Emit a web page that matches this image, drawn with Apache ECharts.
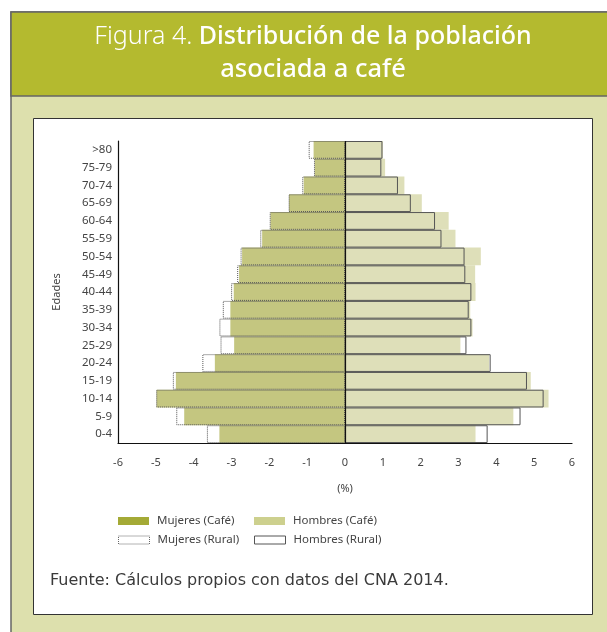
<!DOCTYPE html>
<html>
<head>
<meta charset="utf-8">
<script src="https://cdn.jsdelivr.net/npm/echarts@6/dist/echarts.min.js"></script>
<style>
  html, body { margin: 0; padding: 0; background: #fff; }
  #chart { width: 607px; height: 632px; }
</style>
</head>
<body>
<div id="chart"></div>
<script>
// grupos de edad, de abajo hacia arriba
var edades = ['0-4', '5-9', '10-14', '15-19', '20-24', '25-29', '30-34', '35-39', '40-44',
              '45-49', '50-54', '55-59', '60-64', '65-69', '70-74', '75-79', '>80'];

// porcentajes (%)
var mujeresCafe  = [3.32, 4.25, 4.98, 4.47, 3.44, 2.93, 3.03, 3.03, 2.94, 2.80, 2.72, 2.19, 1.97, 1.48, 1.09, 0.80, 0.83];
var mujeresRural = [3.65, 4.46, 4.99, 4.55, 3.77, 3.29, 3.32, 3.23, 3.01, 2.85, 2.76, 2.24, 1.99, 1.49, 1.13, 0.82, 0.96];
var hombresCafe  = [3.45, 4.45, 5.38, 4.91, 3.81, 3.05, 3.37, 3.31, 3.45, 3.44, 3.59, 2.92, 2.74, 2.03, 1.57, 1.06, 1.00];
var hombresRural = [3.77, 4.64, 5.25, 4.81, 3.85, 3.21, 3.34, 3.27, 3.34, 3.18, 3.16, 2.55, 2.38, 1.74, 1.40, 0.96, 0.99];

var ticksX = [-6, 6, 1]; // min, max, intervalo

var fuente = 'Noto Sans';
var neg = function (arr) { return arr.map(function (v) { return -v; }); };

var myChart = echarts.init(document.getElementById('chart'), null, { renderer: 'canvas' });

function legendItem(name, left, top, estilo) {
    return {
        left: left, top: top,
        padding: 0,
        icon: 'rect',
        itemWidth: 31, itemHeight: 8,
        itemGap: 0,
        textStyle: { fontFamily: fuente, fontSize: 11.5, color: '#444', padding: [0, 0, 0, 3] },
        data: [{ name: name, itemStyle: estilo }]
    };
}

var option = {
    animation: false,
    graphic: [
        // marco exterior
        { type: 'rect', z: 0, shape: { x: 11, y: 12, width: 620, height: 640 },
          style: { fill: '#dde0ad', stroke: '#666', lineWidth: 1.5 } },
        // banda del titulo
        { type: 'rect', z: 0, shape: { x: 11, y: 12, width: 620, height: 84 },
          style: { fill: '#b4ba2f', stroke: '#666', lineWidth: 1.5 } },
        // caja blanca
        { type: 'rect', z: 0, shape: { x: 33.5, y: 118.5, width: 559, height: 496 },
          style: { fill: '#fff', stroke: '#333', lineWidth: 1 } },
        { type: 'text', z: 1, x: 313, y: 37,
          style: {
              text: '{a|Figura 4. }{b|Distribución de la población}',
              align: 'center', verticalAlign: 'middle',
              rich: {
                  a: { fontFamily: 'Noto Sans', fontWeight: 300, fontSize: 25, fill: '#fff' },
                  b: { fontFamily: 'Noto Sans', fontWeight: 500, fontSize: 25, fill: '#fff' }
              }
          } },
        { type: 'text', z: 1, x: 313, y: 70,
          style: { text: 'asociada a café', align: 'center', verticalAlign: 'middle',
                   fontFamily: 'Noto Sans', fontWeight: 500, fontSize: 25.5, fill: '#fff' } },
        { type: 'text', z: 1, x: 50, y: 581,
          style: { text: 'Fuente: Cálculos propios con datos del CNA 2014.', verticalAlign: 'middle',
                   fontFamily: 'DejaVu Sans', fontSize: 16, fill: '#3a3a3a' } }
    ],
    legend: [
        legendItem('Mujeres (Café)', 118, 515, { color: '#a4aa36', borderWidth: 0 }),
        legendItem('Hombres (Café)', 254, 515, { color: '#cdd08e', borderWidth: 0 }),
        legendItem('Mujeres (Rural)', 118, 534, { color: '#fff', borderColor: '#666', borderWidth: 1, borderType: 'dotted' }),
        legendItem('Hombres (Rural)', 254, 534, { color: '#fff', borderColor: '#555', borderWidth: 1, borderType: 'solid' })
    ],
    grid: { left: 118, right: 35, top: 141, bottom: 189 },
    xAxis: {
        type: 'value',
        min: ticksX[0], max: ticksX[1], interval: ticksX[2],
        name: '(%)', nameLocation: 'middle', nameGap: 40,
        nameTextStyle: { fontFamily: fuente, fontSize: 11, color: '#444' },
        axisLine: { show: true, lineStyle: { color: '#111', width: 1.2 } },
        axisTick: { show: false },
        splitLine: { show: false },
        axisLabel: { fontFamily: fuente, fontSize: 11, color: '#444', margin: 14 }
    },
    yAxis: {
        type: 'category',
        data: edades,
        name: 'Edades', nameLocation: 'middle', nameGap: 56, nameRotate: 90,
        nameTextStyle: { fontFamily: fuente, fontSize: 11, color: '#444' },
        axisLine: { show: true, onZero: false, lineStyle: { color: '#111', width: 1.2 } },
        axisTick: { show: false },
        axisLabel: { fontFamily: fuente, fontSize: 11.5, color: '#444', margin: 6 }
    },
    series: [
        {
            name: 'Mujeres (Café)', type: 'bar', data: neg(mujeresCafe),
            barCategoryGap: 0, barGap: '-100%',
            itemStyle: { color: '#c4c680' }
        },
        {
            name: 'Hombres (Café)', type: 'bar', data: hombresCafe,
            barCategoryGap: 0, barGap: '-100%',
            itemStyle: { color: '#dedfb9' }
        },
        {
            name: 'Mujeres (Rural)', type: 'bar', data: neg(mujeresRural),
            barCategoryGap: 0, barGap: '-100%',
            itemStyle: { color: 'rgba(255,255,255,0)', borderColor: '#555', borderWidth: 1, borderType: 'dotted' }
        },
        {
            name: 'Hombres (Rural)', type: 'bar', data: hombresRural,
            barCategoryGap: 0, barGap: '-100%',
            itemStyle: { color: 'rgba(255,255,255,0)', borderColor: '#555', borderWidth: 1 },
            markLine: {
                silent: true, symbol: 'none', label: { show: false },
                lineStyle: { color: '#111', type: 'solid', width: 1.2 },
                data: [{ xAxis: 0 }]
            }
        }
    ]
};
myChart.setOption(option);
</script>
</body>
</html>
